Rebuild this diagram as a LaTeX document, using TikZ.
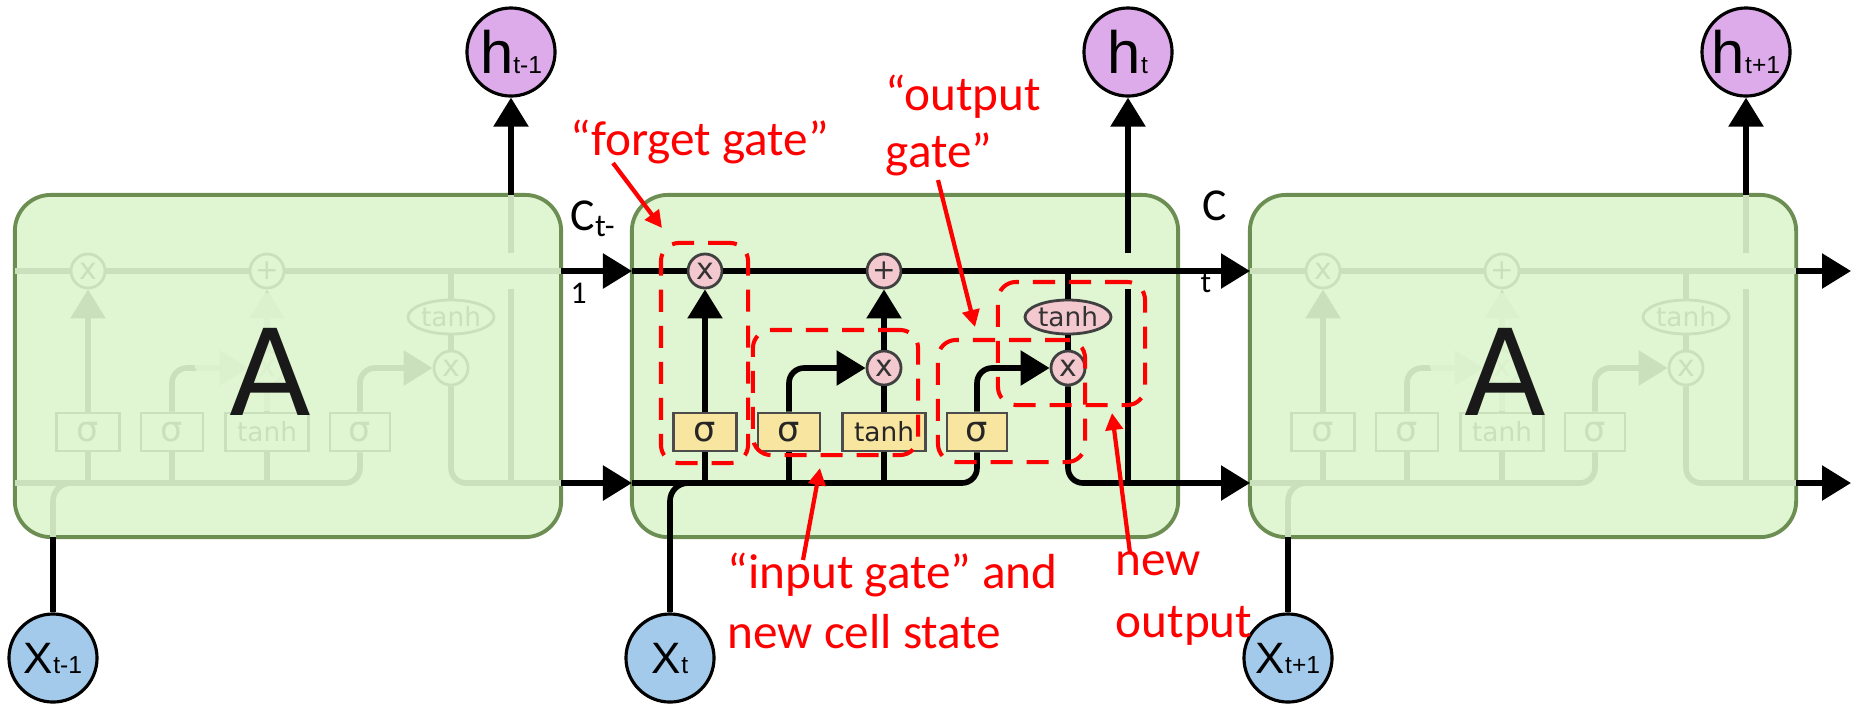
\documentclass[tikz,border=0pt]{standalone}
\usepackage{fontspec}
\setmainfont{Carlito}
\newfontfamily\dejavu{DejaVu Sans}
\newfontfamily\libsans{Liberation Sans}
\usetikzlibrary{arrows.meta,shapes.geometric}
\definecolor{boxfill}{RGB}{224,245,210}
\definecolor{boxedge}{RGB}{108,142,82}
\definecolor{ghostc}{RGB}{202,224,188}
\definecolor{pinkc}{RGB}{244,200,207}
\definecolor{yellowc}{RGB}{247,229,160}
\definecolor{purplec}{RGB}{221,170,234}
\definecolor{bluec}{RGB}{163,202,235}
\tikzset{
  arrowtip/.style={-{Triangle[length=0.29cm,width=0.34cm]}},
  cellbox/.style={rectangle, rounded corners=0.36cm, draw=boxedge, line width=1.1pt, fill=boxfill, minimum width=5.46cm, minimum height=3.42cm, inner sep=0pt},
  live line/.style={line width=1.6pt, draw=black},
  ghost line/.style={line width=1.6pt, draw=ghostc},
  live op/.style={circle, draw=black!75, line width=0.8pt, fill=pinkc, text=black!80, minimum size=0.34cm, inner sep=0pt, font=\dejavu\fontsize{8.5}{8.5}\selectfont},
  ghost op/.style={circle, draw=ghostc, line width=0.8pt, fill=boxfill, text=ghostc, minimum size=0.34cm, inner sep=0pt, font=\dejavu\fontsize{8.5}{8.5}\selectfont},
  live ell/.style={ellipse, draw=black!75, line width=0.8pt, fill=pinkc, text=black!80, minimum width=0.86cm, minimum height=0.34cm, inner sep=0pt, font=\dejavu\fontsize{7.5}{7.5}\selectfont},
  ghost ell/.style={ellipse, draw=ghostc, line width=0.8pt, fill=boxfill, text=ghostc, minimum width=0.86cm, minimum height=0.34cm, inner sep=0pt, font=\dejavu\fontsize{7.5}{7.5}\selectfont},
  live lay/.style={rectangle, draw=black!70, line width=0.8pt, fill=yellowc, text=black!85, minimum height=0.38cm, inner sep=0pt, font=\dejavu\fontsize{10}{10}\selectfont},
  ghost lay/.style={rectangle, draw=ghostc, line width=0.8pt, fill=boxfill, text=ghostc, minimum height=0.38cm, inner sep=0pt, font=\dejavu\fontsize{10}{10}\selectfont},
  iocirc/.style={circle, draw=black, line width=0.9pt, minimum size=0.88cm, inner sep=0pt},
  halo/.style={ellipse, fill=boxfill, fill opacity=0.8, draw=none, minimum width=1.55cm, minimum height=1.18cm},
  bigA/.style={font=\dejavu\fontsize{34}{34}\selectfont, text=black!90, inner sep=0pt},
  reddash/.style={rectangle, draw=red, line width=1.15pt, dash pattern=on 0.22cm off 0.14cm, rounded corners=0.18cm, inner sep=0pt},
  redarr/.style={draw=red, line width=1.2pt, -{Triangle[length=0.17cm,width=0.17cm]}},
  redtxt/.style={text=red, font=\fontsize{14}{16}\selectfont, inner sep=0pt},
  blktxt/.style={text=black, inner sep=0pt}
}
\newcommand\lstmcell[3]{%
\begin{scope}[shift={(#2,0)}]
\node[cellbox] (#1-box) at (905,366) {};
\coordinate (#1-cin) at (632,271);
\coordinate (#1-cout) at (1178,271);
\coordinate (#1-bin) at (632,483);
\coordinate (#1-bout) at (1178,483);
\coordinate (#1-xin) at (670,537);
\coordinate (#1-hout) at (1128,195);
\coordinate (#1-hgb) at (1128,289);
\coordinate (#1-hgt) at (1128,253);
\coordinate (#1-j1) at (705,483);
\coordinate (#1-j2) at (789,483);
\coordinate (#1-j3) at (884,483);
\coordinate (#1-j5) at (1128,483);
\coordinate (#1-tap) at (1068,271);
\node[#3 op] (#1-F) at (705,271) {x};
\node[#3 op, font=\dejavu\fontsize{8}{8}\selectfont] (#1-P) at (884,271) {+};
\node[#3 op] (#1-I) at (884,368) {x};
\node[#3 op] (#1-O) at (1068,368) {x};
\node[#3 ell] (#1-E) at (1068,317) {tanh};
\node[#3 lay, minimum width=0.63cm] (#1-S1) at (705,432) {σ};
\node[#3 lay, minimum width=0.62cm] (#1-S2) at (789,432) {σ};
\node[#3 lay, minimum width=0.83cm, font=\dejavu\fontsize{7.5}{7.5}\selectfont] (#1-T) at (884,432) {tanh};
\node[#3 lay, minimum width=0.60cm] (#1-S3) at (977,432) {σ};
\draw[#3 line] (#1-cin) -- (#1-F);
\draw[#3 line] (#1-F) -- (#1-P);
\draw[#3 line] (#1-P) -- (#1-cout);
\draw[#3 line] (#1-tap) -- (#1-E);
\draw[#3 line] (#1-E) -- (#1-O);
\draw[#3 line, rounded corners=0.15cm] (#1-bin) -| (#1-S3);
\draw[#3 line, rounded corners=0.18cm] (#1-xin) |- (#1-j1);
\draw[#3 line] (#1-j1) -- (#1-S1);
\draw[#3 line] (#1-j2) -- (#1-S2);
\draw[#3 line] (#1-j3) -- (#1-T);
\draw[#3 line, arrowtip] (#1-S1) -- (#1-F);
\draw[#3 line, arrowtip, rounded corners=0.15cm] (#1-S2) |- (#1-I);
\draw[#3 line] (#1-T) -- (#1-I);
\draw[#3 line, arrowtip] (#1-I) -- (#1-P);
\draw[#3 line, arrowtip, rounded corners=0.15cm] (#1-S3) |- (#1-O);
\draw[#3 line, rounded corners=0.15cm] (#1-O) |- (#1-bout);
\draw[#3 line] (#1-j5) -- (#1-hgb);
\draw[#3 line] (#1-hgt) -- (#1-hout);
\end{scope}}
\begin{document}
\begin{tikzpicture}[x=0.01cm, y=-0.01cm]
\useasboundingbox (0,0) rectangle (1852,705);
\lstmcell{L}{-617}{ghost}
\lstmcell{R}{618}{ghost}
\lstmcell{M}{0}{live}
\node[halo] (LAh) at (270,352) {};
\node[halo] (RAh) at (1505,352) {};
\node[bigA] (LA) at (270,372) {A};
\node[bigA] (RA) at (1505,372) {A};
% inputs and outputs
\node[iocirc, fill=purplec] (hL) at (511,52) {\libsans\fontsize{17}{17}\selectfont h\fontsize{7}{7}\selectfont t-1};
\node[iocirc, fill=purplec] (hM) at (1128,52) {\libsans\fontsize{17}{17}\selectfont h\fontsize{7}{7}\selectfont t};
\node[iocirc, fill=purplec] (hR) at (1746,52) {\libsans\fontsize{17}{17}\selectfont h\fontsize{7}{7}\selectfont t+1};
\node[iocirc, fill=bluec] (xL) at (53,658) {\libsans\fontsize{12.5}{12.5}\selectfont X\fontsize{7}{7}\selectfont t-1};
\node[iocirc, fill=bluec] (xM) at (670,658) {\libsans\fontsize{12.5}{12.5}\selectfont X\fontsize{7}{7}\selectfont t};
\node[iocirc, fill=bluec] (xR) at (1288,658) {\libsans\fontsize{12.5}{12.5}\selectfont X\fontsize{7}{7}\selectfont t+1};
\coordinate (exitc) at (1851,271);
\coordinate (exitb) at (1851,483);
\draw[live line, arrowtip] (L-cout) -- (M-cin);
\draw[live line, arrowtip] (L-bout) -- (M-bin);
\draw[live line, arrowtip] (M-cout) -- (R-cin);
\draw[live line, arrowtip] (M-bout) -- (R-bin);
\draw[live line, arrowtip] (R-cout) -- (exitc);
\draw[live line, arrowtip] (R-bout) -- (exitb);
\draw[live line, arrowtip] (L-hout) -- (hL);
\draw[live line, arrowtip] (M-hout) -- (hM);
\draw[live line, arrowtip] (R-hout) -- (hR);
\draw[live line] (xL) -- (L-xin);
\draw[live line] (xM) -- (M-xin);
\draw[live line] (xR) -- (R-xin);
% cell state labels
\node[blktxt, anchor=base west, font=\fontsize{13}{13}\selectfont] (cl1) at (570,230) {C\textsubscript{t-}};
\node[blktxt, anchor=base west, font=\fontsize{9}{9}\selectfont] (cl2) at (570,303) {1};
\node[blktxt, anchor=base west, font=\fontsize{13}{13}\selectfont] (cr1) at (1202,220) {C};
\node[blktxt, anchor=base west, font=\fontsize{9}{9}\selectfont] (cr2) at (1200,292) {t};
% red annotations
\node[reddash, minimum width=0.87cm, minimum height=2.20cm] (fgbox) at (704.5,353) {};
\node[reddash, minimum width=1.65cm, minimum height=1.25cm] (inbox) at (835.5,392.5) {};
\node[reddash, minimum width=1.47cm, minimum height=1.22cm] (ogbox) at (1011.5,401) {};
\node[reddash, minimum width=1.47cm, minimum height=1.23cm] (nobox) at (1071.5,343.5) {};
\node[redtxt, anchor=base west] (fgt) at (570,155) {“forget gate”};
\node[redtxt, anchor=base west] (ogt1) at (885,110) {“output};
\node[redtxt, anchor=base west] (ogt2) at (885,167) {gate”};
\node[redtxt, anchor=base west] (igt1) at (727,588) {“input gate” and};
\node[redtxt, anchor=base west] (igt2) at (727,648) {new cell state};
\node[redtxt, anchor=base west] (not1) at (1115,575) {new};
\node[redtxt, anchor=base west] (not2) at (1115,637) {output};
\coordinate (fgA) at (613,163);
\coordinate (fgB) at (662,228);
\coordinate (ogA) at (938,180);
\coordinate (ogB) at (975,327);
\coordinate (igA) at (803,560);
\coordinate (igB) at (820,468);
\coordinate (noA) at (1130,553);
\coordinate (noB) at (1112,413);
\draw[redarr] (fgA) -- (fgB);
\draw[redarr] (ogA) -- (ogB);
\draw[redarr] (igA) -- (igB);
\draw[redarr] (noA) -- (noB);
\end{tikzpicture}
\end{document}
